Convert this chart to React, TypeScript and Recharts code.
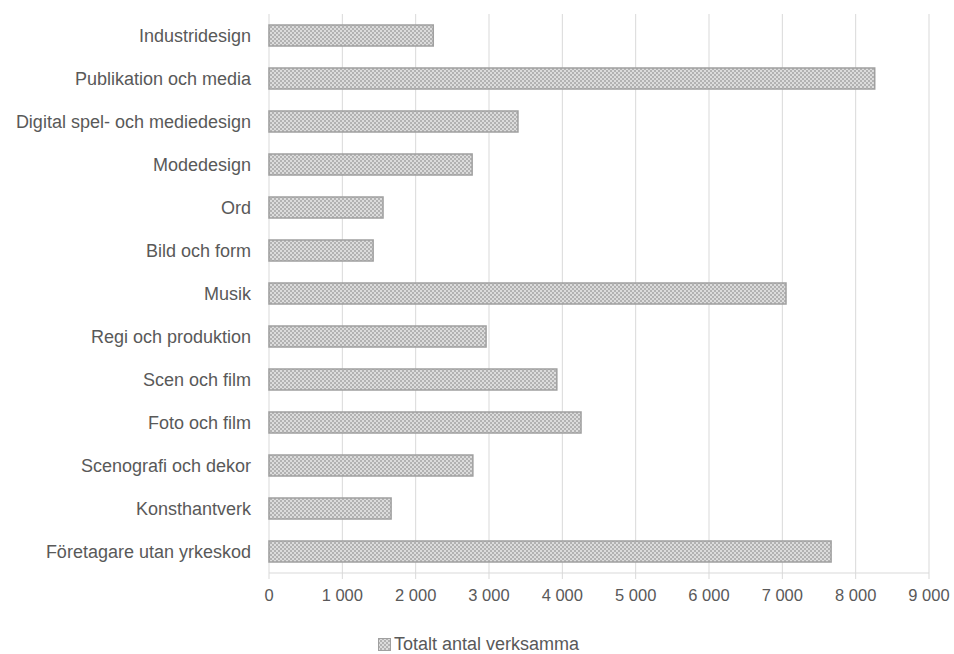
import { BarChart, Bar, XAxis, YAxis, CartesianGrid, Legend } from "recharts";

const categories = [
  "Industridesign",
  "Publikation och media",
  "Digital spel- och mediedesign",
  "Modedesign",
  "Ord",
  "Bild och form",
  "Musik",
  "Regi och produktion",
  "Scen och film",
  "Foto och film",
  "Scenografi och dekor",
  "Konsthantverk",
  "Företagare utan yrkeskod",
];

const totals = [2240, 8260, 3395, 2770, 1555, 1420, 7050, 2960, 3925, 4255, 2780, 1665, 7665];

const xTicks = [0, 1000, 2000, 3000, 4000, 5000, 6000, 7000, 8000, 9000];

const seriesName = "Totalt antal verksamma";

const data = categories.map((name, i) => ({ name, value: totals[i] }));

const fmt = (v: number) => (v >= 1000 ? `${Math.floor(v / 1000)} ${String(v % 1000).padStart(3, "0")}` : String(v));

const font = "'Liberation Sans', Arial, sans-serif";

function LegendContent() {
  return (
    <div style={{ display: "flex", alignItems: "center", fontFamily: font, fontSize: 18, lineHeight: "20px", color: "#595959", paddingLeft: 378, paddingTop: 2 }}>
      <svg width={13} height={13} style={{ marginRight: 3 }}>
        <rect x={0.5} y={0.5} width={12} height={12} fill="url(#checker)" stroke="#a0a0a0" />
      </svg>
      <span>{seriesName}</span>
    </div>
  );
}

export default function App() {
  return (
    <div style={{ position: "absolute", left: 0, top: 0, width: 954, height: 654, background: "#fff" }}>
      <svg width={0} height={0} style={{ position: "absolute" }}>
        <defs>
          <pattern id="checker" width={4} height={4} patternUnits="userSpaceOnUse">
            <rect width={4} height={4} fill="#dcdcdc" />
            <rect width={2} height={2} fill="#b2b2b2" />
            <rect x={2} y={2} width={2} height={2} fill="#b2b2b2" />
          </pattern>
        </defs>
      </svg>
      <BarChart
        width={954}
        height={654}
        data={data}
        layout="vertical"
        margin={{ top: 14, right: 25, bottom: 0, left: 0 }}
      >
        <CartesianGrid horizontal={false} stroke="#d9d9d9" />
        <XAxis
          type="number"
          domain={[0, 9000]}
          ticks={xTicks}
          tickFormatter={fmt}
          axisLine={{ stroke: "#d9d9d9" }}
          tickLine={{ stroke: "#d9d9d9" }}
          tickSize={6}
          tickMargin={10}
          height={59}
          tick={{ fill: "#595959", fontSize: 16.5, fontFamily: font }}
        />
        <YAxis
          type="category"
          dataKey="name"
          width={269}
          axisLine={false}
          tickLine={false}
          tickSize={0}
          tickMargin={18}
          interval={0}
          tick={{ fill: "#595959", fontSize: 18, fontFamily: font }}
        />
        <Legend verticalAlign="bottom" height={22} content={<LegendContent />} />
        <Bar dataKey="value" name={seriesName} fill="url(#checker)" stroke="#a0a0a0" strokeWidth={1.5} barSize={21} isAnimationActive={false} />
      </BarChart>
    </div>
  );
}
